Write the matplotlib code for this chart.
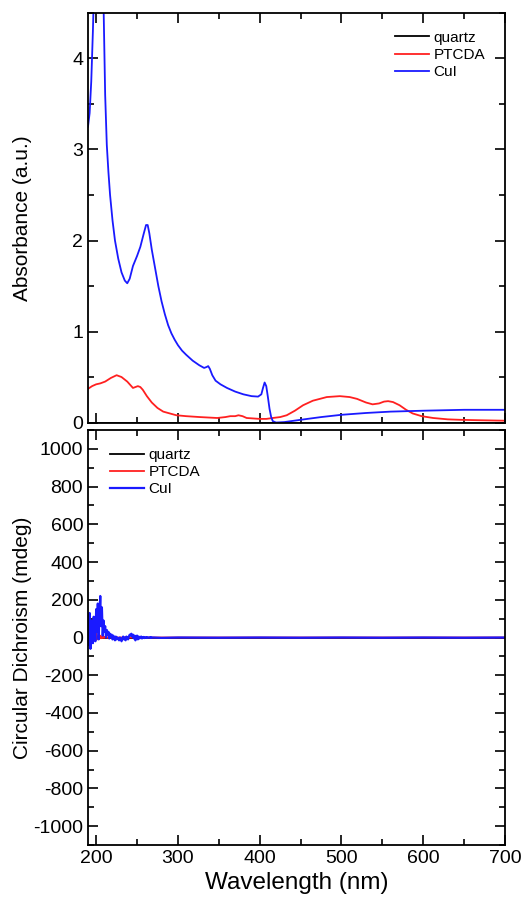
import numpy as np
import matplotlib.pyplot as plt
from matplotlib.ticker import MultipleLocator

plt.rcParams['font.family'] = ['Liberation Sans', 'DejaVu Sans']
plt.rcParams['axes.unicode_minus'] = False

# --- absorbance data ---
wl_cui = [190, 192, 194, 196, 198, 200, 203, 206, 208, 209, 210, 211, 213, 215, 217, 220,
          223, 227, 231, 235, 238, 241, 245, 250, 254, 258, 261, 263, 265, 268, 272, 276,
          280, 284, 288, 292, 296, 300, 305, 310, 318, 326, 332, 335, 337, 339, 342, 346, 352, 360,
          370, 380, 390, 398, 402, 404, 406, 408, 410, 412, 414, 416, 420, 430, 450, 475,
          500, 530, 560, 600, 650, 700]
abs_cui = [3.25, 3.4, 3.75, 4.3, 5.0, 5.6, 6.0, 5.6, 5.0, 4.6, 4.1, 3.6, 3.05, 2.75, 2.5, 2.22,
           2.0, 1.8, 1.65, 1.56, 1.53, 1.58, 1.72, 1.83, 1.93, 2.07, 2.17, 2.17, 2.08, 1.9, 1.7, 1.5,
           1.33, 1.19, 1.07, 0.98, 0.91, 0.85, 0.79, 0.745, 0.68, 0.63, 0.6, 0.61, 0.62, 0.59, 0.52, 0.46, 0.42, 0.38,
           0.34, 0.31, 0.29, 0.285, 0.31, 0.38, 0.44, 0.40, 0.28, 0.15, 0.06, 0.015, 0.0, 0.005, 0.03, 0.06,
           0.085, 0.105, 0.12, 0.13, 0.14, 0.14]

wl_ptcda = [190, 195, 200, 205, 211, 218, 225, 231, 238, 245, 248, 251, 254, 257, 262, 268,
            275, 282, 290, 298, 310, 327, 348, 358, 364, 370, 374, 379, 384, 392, 400, 408,
            416, 425, 433, 443, 453, 465, 482, 498, 510, 519, 530, 538, 546, 552, 557, 563,
            571, 579, 587, 598, 612, 630, 645, 670, 700]
abs_ptcda = [0.37, 0.40, 0.42, 0.43, 0.45, 0.49, 0.52, 0.50, 0.45, 0.38, 0.39, 0.40, 0.39, 0.36, 0.29, 0.22,
             0.16, 0.12, 0.10, 0.08, 0.07, 0.06, 0.05, 0.06, 0.07, 0.07, 0.08, 0.07, 0.05, 0.045, 0.04, 0.04,
             0.05, 0.06, 0.08, 0.13, 0.19, 0.24, 0.28, 0.29, 0.28, 0.26, 0.22, 0.20, 0.21, 0.23, 0.235, 0.225,
             0.19, 0.14, 0.10, 0.07, 0.05, 0.035, 0.03, 0.025, 0.02]

wl_quartz = [190, 250, 300, 400, 500, 600, 700]
abs_quartz = [0, 0, 0, 0, 0, 0, 0]

# --- circular dichroism data ---
wl_cd = list(range(190, 271)) + [280, 300, 350, 400, 450, 500, 550, 600, 650, 700]
cd_cui = [60, -40, 130, -60, 90, 20, -30, 110, 40, -20,
          150, 30, 180, -10, 120, 220, 60, 160, 10, 90,
          30, 60, 0, 40, 15, 30, -5, 20, 5, 15,
          -10, 10, 0, -15, 5, -10, 0, -5, -15, 0,
          -5, -20, -5, 5, -10, 0, -15, 5, 0, -10,
          5, 15, 10, 20, 5, 15, -5, 10, -15, 5,
          10, -10, 5, -5, 0, 5, -5, 0, 3, -3,
          0, 2, -2, 1, -1, 0, 2, -2, 1, -1, 0,
          -2, 0, -1, 0, -1, 0, -1, 0, -1, 0]
cd_ptcda = [10, -15, 20, -10, 15, -5, 10, -8, 12, -5,
            20, -10, 5, 8, -6, 10, -4, 6, -3, 5,
            -2, 3, 0, 2, -2, 1, 0, -1, 1, 0,
            0, 1, 0, -1, 0, 1, 0, -1, 0, 0,
            0, 0, 0, 0, 0, 0, 0, 0, 0, 0,
            0, 0, 0, 0, 0, 0, 0, 0, 0, 0,
            0, 0, 0, 0, 0, 0, 0, 0, 0, 0,
            0, 0, 0, 0, 0, 0, 0, 0, 0, 0, 0,
            0, 0, 0, 0, 0, 0, 0, 0, 0, 0]
cd_quartz = [0] * len(wl_cd)

fig = plt.figure(figsize=(5.25, 9.13), dpi=100)
ax1 = fig.add_axes([0.1676, 0.5367, 0.7944, 0.4491])
ax2 = fig.add_axes([0.1676, 0.0745, 0.7944, 0.4545])

ax1.plot(wl_quartz, abs_quartz, color='black', lw=1.3, label='quartz', zorder=1)
ax1.plot(wl_ptcda, abs_ptcda, color='#ff2020', lw=1.3, label='PTCDA')
ax1.plot(wl_cui, abs_cui, color='#1a1aff', lw=1.3, label='CuI')

ax2.plot(wl_cd, cd_quartz, color='black', lw=1.3, label='quartz')
ax2.plot(wl_cd, cd_ptcda, color='#ff2020', lw=1.3, label='PTCDA')
ax2.plot(wl_cd, cd_cui, color='#1a1aff', lw=1.6, label='CuI')

ax1.set_xlim(190, 700)
ax1.set_ylim(-0.005, 4.5)
ax2.set_xlim(190, 700)
ax2.set_ylim(-1100, 1100)

for ax in (ax1, ax2):
    ax.xaxis.set_major_locator(MultipleLocator(100))
    ax.xaxis.set_minor_locator(MultipleLocator(50))
    ax.tick_params(which='both', direction='in', top=True, right=True, width=1.2)
    ax.tick_params(which='major', length=7, labelsize=14)
    ax.tick_params(which='minor', length=4)
    for sp in ax.spines.values():
        sp.set_linewidth(1.3)
        sp.set_zorder(3)

ax1.yaxis.set_major_locator(MultipleLocator(1))
ax1.yaxis.set_minor_locator(MultipleLocator(0.5))
ax1.tick_params(labelbottom=False)
ax2.yaxis.set_major_locator(MultipleLocator(200))
ax2.yaxis.set_minor_locator(MultipleLocator(100))

ax1.set_ylabel('Absorbance (a.u.)', fontsize=15)
ax2.set_ylabel('Circular Dichroism (mdeg)', fontsize=15)
ax2.set_xlabel('Wavelength (nm)', fontsize=17.5)
ax1.yaxis.set_label_coords(-0.135, 0.5)
ax2.yaxis.set_label_coords(-0.135, 0.5)

ax1.legend(loc='upper right', frameon=False, fontsize=11, handlelength=2.2,
           handletextpad=0.3, labelspacing=0.2, bbox_to_anchor=(0.985, 0.99))
ax2.legend(loc='upper left', frameon=False, fontsize=11, handlelength=2.2,
           handletextpad=0.3, labelspacing=0.2, bbox_to_anchor=(0.02, 0.99))

fig.savefig('out.png', dpi=100)
